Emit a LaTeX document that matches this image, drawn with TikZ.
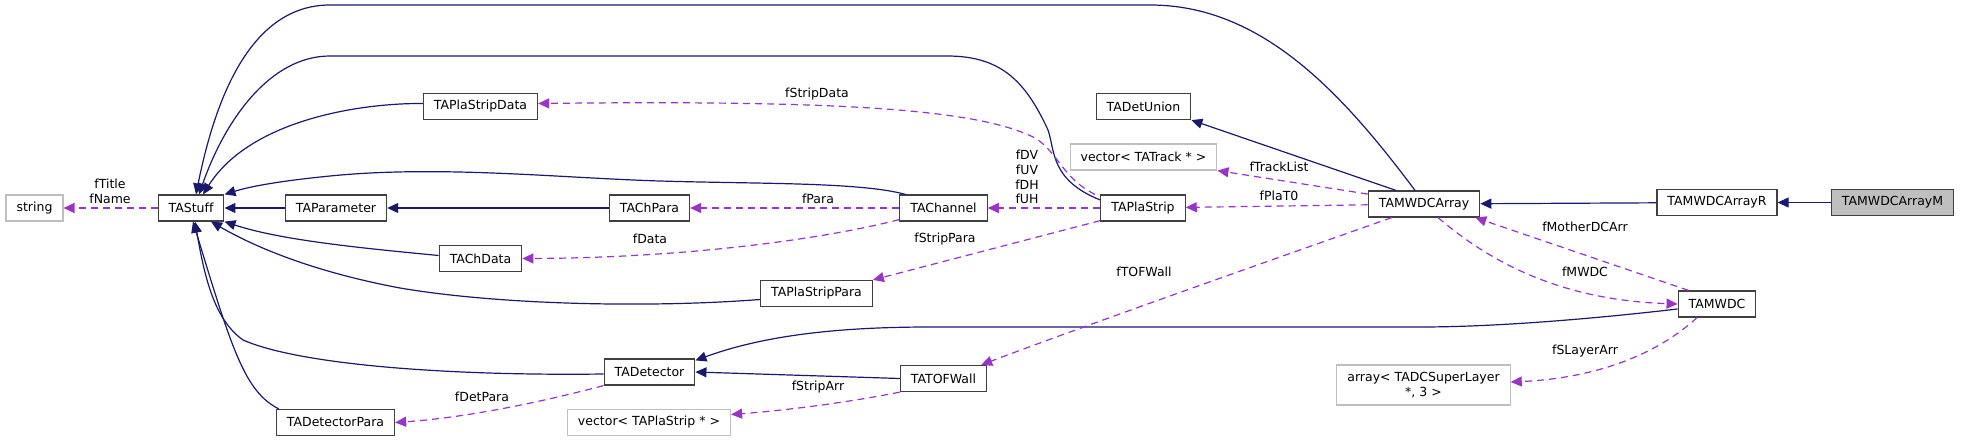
\documentclass[tikz,border=0pt]{standalone}
\usepackage{fontspec}
\setmainfont{DejaVu Sans}[Ligatures=NoCommon]
\usepackage{tikz}
\definecolor{mynavy}{RGB}{25,25,112}
\definecolor{myorchid}{RGB}{154,50,205}
\definecolor{mygrey}{RGB}{191,191,191}
\definecolor{myframe}{RGB}{64,64,64}
\usetikzlibrary{arrows.meta}
\tikzstyle{cls} = [draw=myframe, line width=1.2pt, fill=white, minimum height=26pt, inner xsep=10.5pt, inner ysep=0pt]
\tikzstyle{ext} = [cls, draw=mygrey]

\begin{document}
\begin{tikzpicture}[x=1pt, y=-1pt, >={Triangle[length=11pt,width=10pt]},   %y nach unten, wie Pixel
				font=\fontsize{12.5}{14.7}\selectfont,
				inh/.style={draw=mynavy, line width=1.2pt, ->},
				mem/.style={draw=myorchid, line width=1.2pt, dash pattern=on 7pt off 5pt, ->},
				lbl/.style={inner sep=0pt, align=center}]
				\useasboundingbox (0,0) rectangle (1961,441);
				% Klassen
				\node[ext] (str) at (34.5,208) {string};
				\node[cls] (TAStuff) at (191,208) {TAStuff};
				\node[cls] (TAParameter) at (336,208) {TAParameter};
				\node[cls] (TAPlaStripData) at (480.5,106.5) {TAPlaStripData};
				\node[cls] (TAChData) at (480.5,258.5) {TAChData};
				\node[cls] (TADetectorPara) at (335.5,422.5) {TADetectorPara};
				\node[cls] (TAChPara) at (649.5,208) {TAChPara};
				\node[cls] (TADetector) at (649.5,372) {TADetector};
				\node[ext] (TAVecStrip) at (649,422.5) {vector< TAPlaStrip * >};
				\node[cls] (TAChannel) at (943.5,208) {TAChannel};
				\node[cls] (TAPlaStripPara) at (816.5,293.5) {TAPlaStripPara};
				\node[cls] (TATOFWall) at (943.5,378.5) {TATOFWall};
				\node[cls] (TADetUnion) at (1143.5,106.5) {TADetUnion};
				\node[ext] (TAVecTrack) at (1143.5,157) {vector< TATrack * >};
				\node[cls] (TAPlaStrip) at (1143,208) {TAPlaStrip};
				\node[cls] (TAMWDCArray) at (1424,204) {TAMWDCArray};
				\node[ext, align=center, minimum height=40pt] (TAArrLayer) at (1423.5,385) {array< TADCSuperLayer\\ *, 3 >};
				\node[cls] (TAMWDCArrayR) at (1717,202.5) {TAMWDCArrayR};
				\node[cls, fill=mygrey] (TAMWDCArrayM) at (1892.5,202.5) {TAMWDCArrayM};
				\node[cls] (TAMWDC) at (1717,304) {TAMWDC};
				% Vererbung
				\draw[inh] (TAParameter) -- (TAStuff);
				\draw[inh] (TAChPara) -- (TAParameter);
				\draw[inh] (TAMWDCArrayR) -- (TAMWDCArray);
				\draw[inh] (TAMWDCArrayM) -- (TAMWDCArrayR);
				\draw[inh] (TATOFWall.west) -- (TADetector.east);
				\draw[inh] ([xshift=-28pt]TAMWDCArray.north) -- (TADetUnion.south east);
				\draw[inh] ([xshift=-9pt]TAMWDCArray.north) .. controls (1340,90) and (1260,5) .. (1150,5) -- (330,5) .. controls (250,5) and (215,100) .. ([xshift=5pt]TAStuff.north);
				\draw[inh] ([yshift=8pt]TAPlaStrip.west) .. controls (1050,180) and (1055,150) .. (1048,130) .. controls (1025,80) and (1000,56) .. (947,56) -- (330,56) .. controls (270,56) and (225,120) .. ([xshift=8pt]TAStuff.north);
				\draw[inh] ([yshift=3pt]TAPlaStripData.west) .. controls (360,103) and (250,120) .. ([xshift=12pt]TAStuff.north);
				\draw[inh] ([xshift=-38pt]TAChannel.north) .. controls (860,182) and (760,184) .. (660,181) .. controls (560,178) and (440,165) .. (330,176) .. controls (290,180) and (255,185) .. (TAStuff.north east);
				\draw[inh] ([yshift=3pt]TAChData.west) .. controls (360,248) and (280,240) .. (TAStuff.south east);
				\draw[inh] ([yshift=-6pt]TAPlaStripPara.west) .. controls (650,308) and (500,305) .. (400,288) .. controls (320,273) and (260,250) .. ([xshift=20pt]TAStuff.south);
				\draw[inh] ([yshift=-2pt]TADetector.west) .. controls (450,376) and (300,365) .. (243,340) .. controls (215,320) and (205,280) .. ([xshift=4pt]TAStuff.south);
				\draw[inh] ([xshift=3pt]TADetectorPara.north west) .. controls (245,392) and (232,350) .. ([xshift=2pt]TAStuff.south);
				\draw[inh] ([yshift=-5pt]TAMWDC.west) .. controls (1600,318) and (1500,327) .. (1420,327) -- (930,327) .. controls (830,327) and (760,337) .. ([yshift=-2pt]TADetector.north east);
				% Member
				\draw[mem] (TAStuff) -- (str);
				\draw[mem] ([xshift=-48pt]TAPlaStrip.north) .. controls (1062,178) and (1058,152) .. (1035,138) .. controls (980,110) and (850,100) .. ([yshift=3pt]TAPlaStripData.east);
				\draw[mem] (TAChannel) -- (TAChPara);
				\draw[mem] ([yshift=2pt]TAChannel.south west) .. controls (820,240) and (680,258) .. (TAChData.east);
				\draw[mem] (TAPlaStrip) -- (TAChannel);
				\draw[mem] ([yshift=1pt]TAPlaStrip.south west) -- (TAPlaStripPara.north east);
				\draw[mem] (TAMWDCArray.170) -- (TAVecTrack.south east);
				\draw[mem] (TAMWDCArray) -- (TAPlaStrip);
				\draw[mem] ([xshift=24pt]TAMWDCArray.south west) .. controls (1300,250) and (1100,320) .. ([xshift=-6pt]TATOFWall.north east);
				\draw[mem] ([xshift=14pt]TAMWDCArray.south) .. controls (1490,262) and (1560,300) .. (TAMWDC.west);
				\draw[mem] ([xshift=11pt]TAMWDC.north west) -- ([xshift=-5pt]TAMWDCArray.south east);
				\draw[mem] ([xshift=-20pt]TAMWDC.south) .. controls (1660,352) and (1600,378) .. ([yshift=3pt]TAArrLayer.east);
				\draw[mem] (TADetector.south west) .. controls (530,405) and (460,418) .. (TADetectorPara.east);
				\draw[mem] (TATOFWall.south west) .. controls (850,402) and (790,410) .. ([yshift=8pt]TAVecStrip.east);
				% Beschriftung
				\node[lbl] (lTitle) at (110,191) {fTitle\\fName};
				\node[lbl] (lStripData) at (817,94) {fStripData};
				\node[lbl] (lPara) at (818,199) {fPara};
				\node[lbl] (lData) at (650,239) {fData};
				\node[lbl] (lDV) at (1027,177) {fDV\\fUV\\fDH\\fUH};
				\node[lbl] (lStripPara) at (945,239) {fStripPara};
				\node[lbl] (lTrackList) at (1279,167) {fTrackList};
				\node[lbl] (lPlaT) at (1279,196) {fPlaT0};
				\node[lbl] (lTOFWall) at (1144,272) {fTOFWall};
				\node[lbl] (lMother) at (1585,227) {fMotherDCArr};
				\node[lbl] (lMWDC) at (1585,272) {fMWDC};
				\node[lbl] (lSLayer) at (1585,351) {fSLayerArr};
				\node[lbl] (lDetPara) at (482,397) {fDetPara};
				\node[lbl] (lStripArr) at (818,387) {fStripArr};
			\end{tikzpicture}
\end{document}
